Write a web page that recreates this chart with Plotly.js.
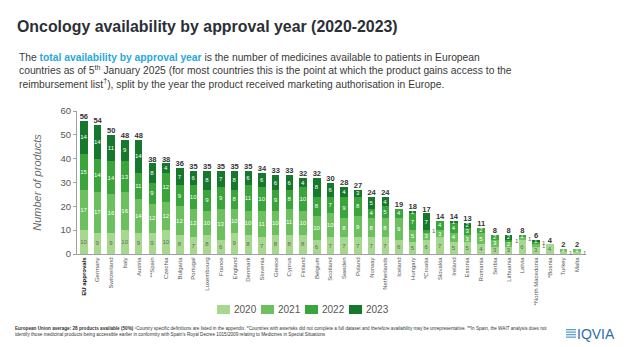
<!DOCTYPE html>
<html>
<head>
<meta charset="utf-8">
<script src="https://cdn.plot.ly/plotly-3.0.1.min.js"></script>
<style>html,body{margin:0;padding:0;background:#fff;}#chart{width:627px;height:347px;}</style>
</head>
<body>
<div id="chart"></div>
<script>
const categories = ["EU approvals","Germany","Switzerland","Italy","Austria","**Spain","Czechia","Bulgaria","Portugal","Luxembourg","France","England","Denmark","Slovenia","Greece","Cyprus","Finland","Belgium","Scotland","Sweden","Poland","Norway","Netherlands","Iceland","Hungary","*Croatia","Slovakia","Ireland","Estonia","Romania","Serbia","Lithuania","Latvia","*North Macedonia","*Bosnia","Turkey","Malta"];
const y2020 = [10,9,9,10,9,9,10,8,7,8,6,9,8,7,8,8,8,6,7,7,7,7,7,6,5,6,7,5,5,4,3,3,6,3,4,1,1];
const y2021 = [17,17,16,16,14,12,12,12,12,10,13,10,10,11,10,11,10,10,10,8,9,8,8,9,5,3,3,4,3,5,3,2,1,1,0,1,1];
const y2022 = [15,14,14,13,11,9,12,9,10,9,9,8,11,10,9,8,10,8,7,9,8,4,5,4,7,1,4,4,3,2,2,1,1,1,0,0,0];
const y2023 = [14,14,11,9,14,8,4,7,6,8,7,8,6,6,6,6,4,8,6,4,3,5,4,0,1,7,0,1,2,0,0,2,0,1,0,0,0];
const years = ["2020","2021","2022","2023"];
const colors = ["#a6d98f","#6cc15e","#3aa53a","#16782d"];
const textColors = ["#5f6b5a","#ffffff","#ffffff","#ffffff"];

const W = 627, H = 347, ml = 77, mr = 43, mt = 111, mb = 93;
const pw = W - ml - mr, ph = H - mt - mb;
const px2x = p => (p - ml) / pw;
const py2y = p => (H - mb - p) / ph;
const FONT = '"Liberation Sans", Arial, sans-serif';

const series = [y2020, y2021, y2022, y2023];
const totals = categories.map((c, i) => series.reduce((s, a) => s + a[i], 0));

const topIdx = categories.map((c, i) => { let t = -1; series.forEach((a, k) => { if (a[i] > 0) t = k; }); return t; });
const outsideAnn = [];
const traces = series.map((vals, k) => {
  const txt = vals.map((v, i) => {
    if (v <= 0) return '';
    if (v === 1 && k !== topIdx[i]) {
      let base = 0; for (let j = 0; j < k; j++) base += series[j][i];
      outsideAnn.push({x: categories[i], y: base + 0.5, xref: 'x', yref: 'y', text: '1', showarrow: false,
        xanchor: 'left', xshift: 4, font: {family: FONT, size: 6, color: '#666'}});
      return '';
    }
    return String(v);
  });
  return {
    type: 'bar', name: years[k], x: categories, y: vals,
    marker: {color: colors[k], line: {width: 0}},
    text: txt, textposition: 'inside', insidetextanchor: 'middle', textangle: 0,
    textfont: {family: FONT, size: 6, color: textColors[k]},
    hoverinfo: 'skip', showlegend: false
  };
});

traces.push({
  type: 'scatter', mode: 'text', x: categories, y: totals, text: totals.map(String),
  textposition: 'top center', textfont: {family: FONT, size: 7.5, color: '#333'},
  texttemplate: '<b>%{text}</b>', showlegend: false, cliponaxis: false, hoverinfo: 'skip'
});

const ticktext = categories.map((c, i) => i === 0 ? '<b style="color:#111">' + c + '</b>' : c);

const annotations = outsideAnn.concat([
  {xref: 'paper', yref: 'paper', x: px2x(17), y: py2y(50), xanchor: 'left', yanchor: 'top', align: 'left', showarrow: false,
   text: 'The <b><span style="color:#2aa7dc">total availability by approval year</span></b> is the number of medicines available to patients in European<br>countries as of 5<sup>th</sup> January 2025 (for most countries this is the point at which the product gains access to the<br>reimbursement list<sup>†</sup>), split by the year the product received marketing authorisation in Europe.',
   font: {family: FONT, size: 10.3, color: '#3a3a3a'}},
  {xref: 'paper', yref: 'paper', x: px2x(13), y: py2y(331), xanchor: 'left', yanchor: 'middle', align: 'left', showarrow: false,
   text: '<b>European Union average: 28 products available (50%)</b> ¹Country specific definitions are listed in the appendix. *Countries with asterisks did not complete a full dataset and therefore availability may be unrepresentative. **In Spain, the WAIT analysis does not<br>identify those medicinal products being accessible earlier in conformity with Spain\'s Royal Decree 1015/2009 relating to Medicines in Special Situations',
   font: {family: FONT, size: 4.65, color: '#333'}},
  {xref: 'paper', yref: 'paper', x: px2x(617), y: py2y(334), xanchor: 'right', yanchor: 'middle', showarrow: false,
   text: 'IQVIA', font: {family: FONT, size: 14, color: '#2f6ea8'}}
]);

const shapes = [];
for (let s = 0; s < 4; s++) {
  shapes.push({type: 'rect', xref: 'paper', yref: 'paper', x0: px2x(566), x1: px2x(576), y0: py2y(329 + s * 2.5), y1: py2y(330.3 + s * 2.5),
    fillcolor: '#5aa0d0', line: {width: 0}});
}

// custom legend
const legX0 = 217, legStep = 44, legY = 309.5;
years.forEach((yr, k) => {
  const sx = legX0 + k * legStep;
  shapes.push({type: 'rect', xref: 'paper', yref: 'paper', x0: px2x(sx), x1: px2x(sx + 13), y0: py2y(legY + 4.5), y1: py2y(legY - 4.5),
    fillcolor: colors[k], line: {width: 0}});
  annotations.push({xref: 'paper', yref: 'paper', x: px2x(sx + 15), y: py2y(legY), xanchor: 'left', yanchor: 'middle', showarrow: false,
    text: yr, font: {family: FONT, size: 10, color: '#555'}});
});

const layout = {
  width: W, height: H,
  margin: {l: ml, r: mr, t: mt, b: mb, pad: 0},
  paper_bgcolor: '#ffffff', plot_bgcolor: '#ffffff',
  barmode: 'stack', bargap: 0.45,
  title: {text: 'Oncology availability by approval year (2020-2023)', x: 17 / W, xanchor: 'left', xref: 'container',
    y: 1 - 26 / H, yanchor: 'middle', yref: 'container',
    font: {family: FONT, size: 15.9, color: '#2b2f36', weight: 'bold'}},
  font: {family: FONT},
  xaxis: {type: 'category', range: [-0.5, categories.length - 0.5], tickvals: categories, ticktext: ticktext, tickangle: -90,
    showline: true, linecolor: '#a0a0a0', linewidth: 1,
    ticks: '', showgrid: false, zeroline: false, tickfont: {family: FONT, size: 6, color: '#555'}, fixedrange: true},
  yaxis: {range: [0, 60], dtick: 10, showline: true, linecolor: '#a0a0a0', linewidth: 1, ticks: 'outside', ticklen: 3, tickcolor: '#a0a0a0',
    showgrid: false, zeroline: false, tickfont: {family: FONT, size: 9.5, color: '#555'},
    title: {text: '<i>Number of products</i>', standoff: 16, font: {family: FONT, size: 11, color: '#6a6a6a'}}, fixedrange: true},
  uniformtext: {minsize: 5, mode: 'show'},
  annotations: annotations,
  shapes: shapes,
  showlegend: false
};

Plotly.newPlot('chart', traces, layout, {displayModeBar: false, staticPlot: true});
</script>
</body>
</html>
